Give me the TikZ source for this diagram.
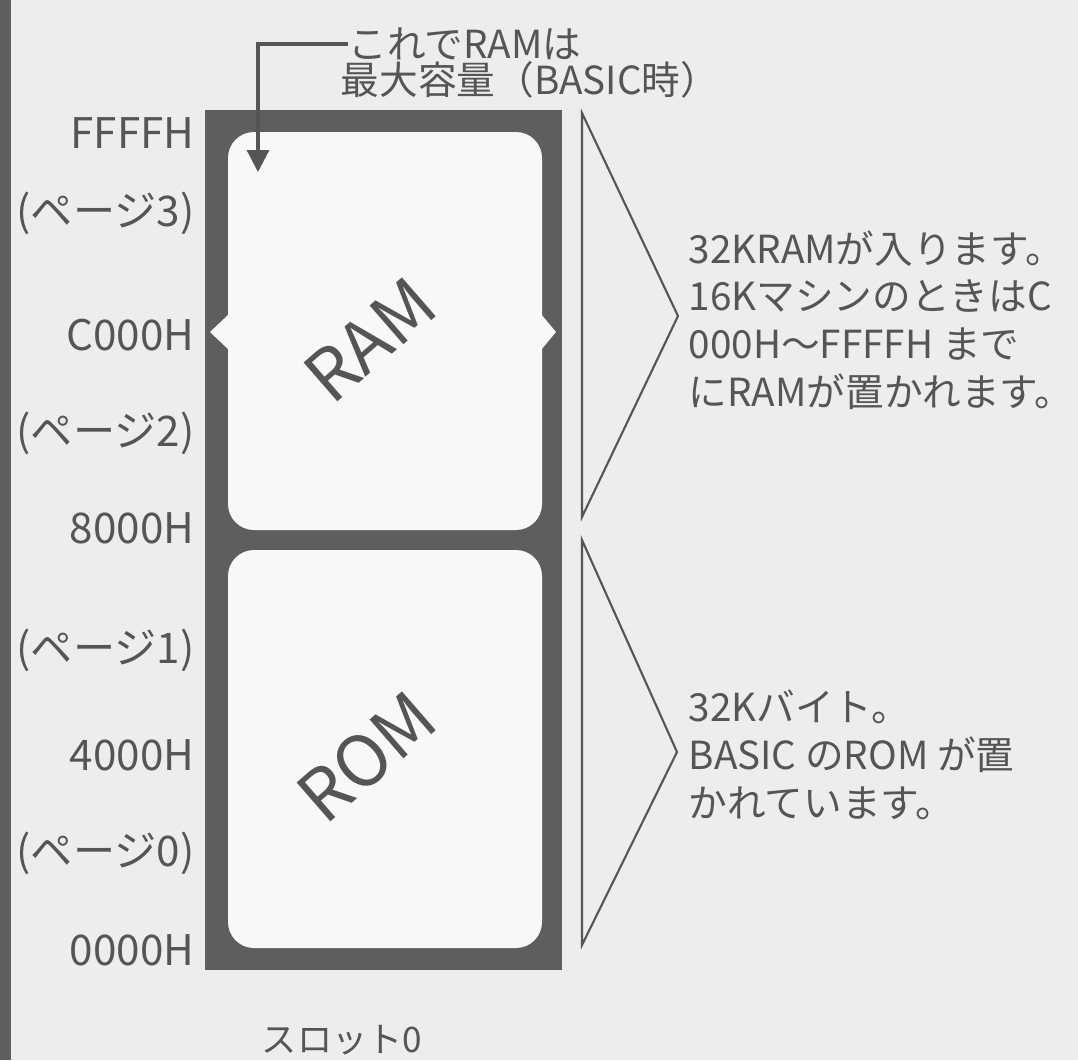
\documentclass[tikz,border=0pt]{standalone}
\usepackage{fontspec}
\setmainfont{Noto Sans CJK JP}
\usetikzlibrary{arrows.meta}
\definecolor{ink}{HTML}{555555}
\definecolor{slab}{HTML}{5E5E5E}
\definecolor{paper}{HTML}{EDEDED}
\definecolor{cell}{HTML}{F8F8F8}

\begin{document}
\begin{tikzpicture}[
  x=0.1mm,y=-0.1mm,
  addr/.style={anchor=east,inner sep=0pt,text=ink,font=\fontsize{12}{14}\selectfont},
  desc/.style={anchor=west,inner sep=0pt,align=left,text=ink,font=\fontsize{11}{13.6}\selectfont},
  note/.style={anchor=west,inner sep=0pt,text=ink,font=\fontsize{11}{13}\selectfont},
  bracket/.style={draw=ink,line width=0.6pt,line join=miter},
  region/.style={inner sep=0pt,text=ink,font=\fontsize{20}{24}\selectfont,rotate=41},
  leader/.style={draw=ink,line width=0.9pt,-{Triangle[length=2.2mm,width=2.2mm]}}
]
\useasboundingbox (0,0) rectangle (1078,1060);
\fill[paper] (0,0) rectangle (1078,1060);
\fill[slab] (0,0) rectangle (11,1060);

% slot 0 frame with the two pages pairs
\fill[slab] (205,110) rectangle (562,970);
\fill[cell,rounded corners=2.6mm] (228,132) rectangle (542,530);
\fill[cell,rounded corners=2.6mm] (228,550) rectangle (542,948);
\fill[cell] (229,314) -- (210,332) -- (229,350) -- cycle;
\fill[cell] (541,314) -- (556,332) -- (541,350) -- cycle;
\node[region] (ram) at (370,340) {RAM};
\node[region] (rom) at (367,757) {ROM};

% addresses and pages
\foreach \y/\t in {133/FFFFH,213/(ページ3),335/C000H,433/(ページ2),528/8000H,
                   650/(ページ1),755/4000H,853/(ページ0),950/0000H}
  \node[addr] (a\y) at (195,\y) {\t};
\node[note,anchor=center,font=\fontsize{10}{12}\selectfont] (slot) at (342,1040) {スロット0};

% top note
\node[note] (note1) at (348,44) {これでRAMは};
\node[note] (note2) at (340,80) {最大容量（BASIC時）};
\coordinate (tip) at (258,172);
\draw[leader] (note1.west) -| (tip);

% brackets and descriptions
\draw[bracket] (582,113) -- (678,316) -- (582,517) -- cycle;
\draw[bracket] (582,540) -- (677,752) -- (582,945) -- cycle;
\node[desc] (ramtxt) at (688,320) {32KRAMが入ります。\\16KマシンのときはC\\000H〜FFFFH まで\\にRAMが置かれます。};
\node[desc] (romtxt) at (688,755) {32Kバイト。\\BASIC のROM が置\\かれています。};
\end{tikzpicture}
\end{document}
